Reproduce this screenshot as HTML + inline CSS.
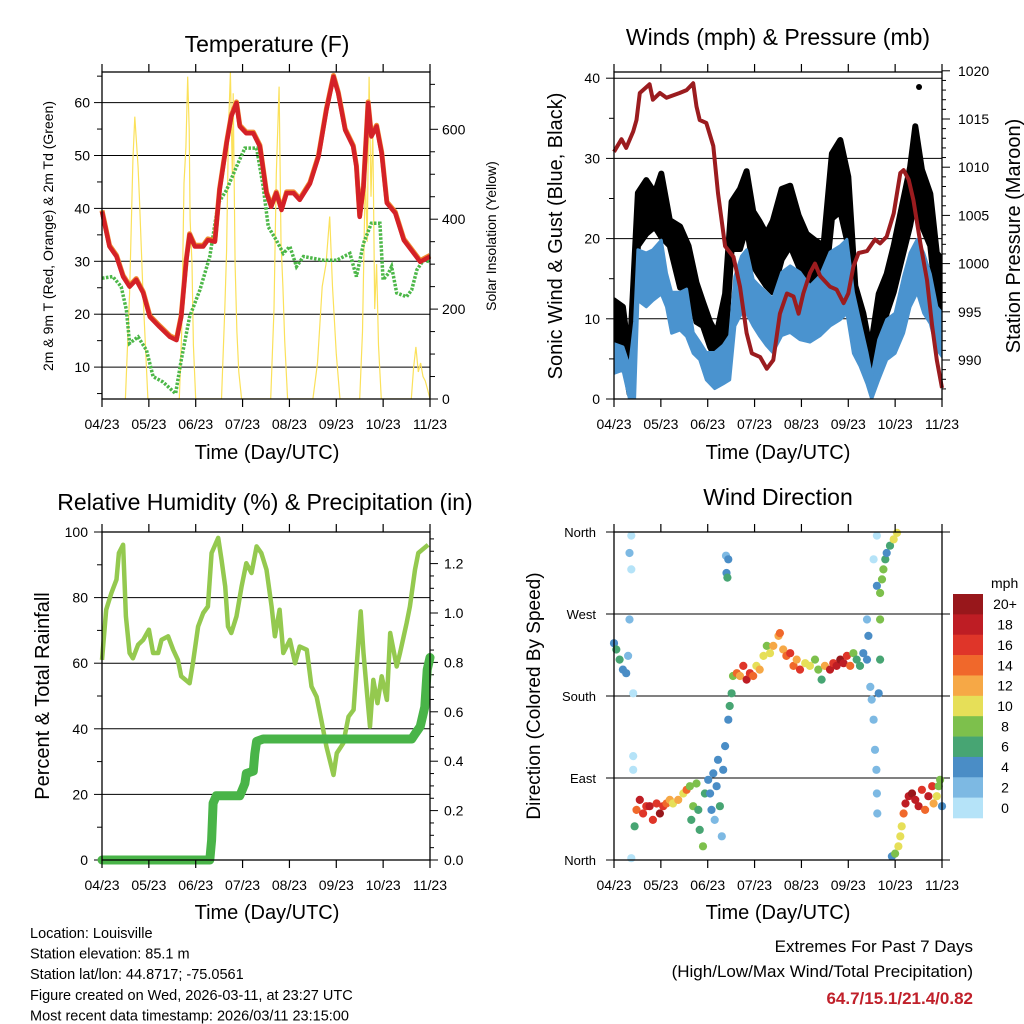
<!DOCTYPE html>
<html><head><meta charset="utf-8"><style>
html,body{margin:0;padding:0;background:#fff;}
svg{display:block;font-family:"Liberation Sans",Arial,sans-serif;}
</style></head><body>
<svg id="chart" width="1024" height="1024" viewBox="0 0 1024 1024" xmlns="http://www.w3.org/2000/svg">
<rect width="1024" height="1024" fill="#fff"/>
</svg>
<script>
// ---------- DATA ----------
const dayLabels = ['04/23','05/23','06/23','07/23','08/23','09/23','10/23','11/23'];
// Temperature panel
const tempT = [0,0.16,0.31,0.45,0.59,0.73,0.88,1.02,1.23,1.45,1.59,1.69,1.80,1.87,1.98,2.16,2.26,2.41,2.51,2.66,2.76,2.87,2.94,3.08,3.23,3.37,3.51,3.61,3.72,3.83,3.94,4.09,4.22,4.44,4.62,4.79,4.94,5.04,5.19,5.36,5.43,5.50,5.58,5.68,5.75,5.86,5.97,6.08,6.26,6.44,6.79,7.0];
const temp2m = [39.4,32.8,30.9,27.1,25.2,26.5,24,19.5,17.6,15.7,15.1,19.5,30.2,35,32.8,32.8,34,33.7,43.5,52.3,57.4,59.9,55.5,54.2,54.2,51.7,42.9,40.3,42.9,39.7,42.9,42.9,41.6,44.7,49.8,58.6,64.9,61.8,54.8,51.7,47.9,38.4,44.1,59.9,53.6,55.5,50.4,41,39.1,34,29.9,30.9];
const tdT = [0,0.23,0.41,0.52,0.59,0.77,0.95,1.09,1.30,1.57,1.69,1.87,2.09,2.30,2.48,2.66,2.87,3.05,3.30,3.44,3.55,3.72,3.87,4.01,4.15,4.30,4.72,5.01,5.29,5.43,5.58,5.75,5.93,6.00,6.11,6.18,6.29,6.50,6.61,6.72,6.86,7.0];
const td2m = [26.8,27.1,25.2,20.8,14.5,15.7,13.2,8.2,7.2,5,11.3,19.5,24.6,30.9,41,43.5,47.9,51.4,51.4,44.1,36.5,34,31.5,32.8,29,30.9,30.2,30.2,31.5,27.1,33.4,37.2,37.2,26.5,27.7,29,24,23.3,24.6,28.4,30.2,29.9];
const solarT = [0.5,0.59,0.66,0.70,0.77,0.80,0.875,0.98, 1.65,1.70,1.75,1.79,1.83,1.86,1.88,1.92,1.95,2.0, 2.55,2.62,2.66,2.70,2.74,2.78,2.80,2.84,2.88,2.92,2.98, 3.60,3.67,3.72,3.78,3.82,3.86,3.90,3.96, 4.5,4.6,4.7,4.78,4.86,4.92,5.0,5.08, 5.5,5.56,5.62,5.66,5.70,5.74,5.78,5.82,5.86,5.90,5.96, 6.6,6.65,6.70,6.75,6.80,6.85,6.9,6.95,7.0];
const solarV = [0,235,531,628,516,442,235,0, 0,150,480,560,717,600,400,300,120,0, 0,200,330,600,728,500,680,300,150,60,0, 0,200,500,695,350,250,130,0, 0,80,250,300,406,250,100,0, 0,150,500,350,717,450,600,200,300,120,0, 0,70,116,60,80,50,40,20,0];
// Winds panel
const windT = [0,0.19,0.33,0.44,0.51,0.69,0.83,1.01,1.12,1.23,1.41,1.55,1.69,1.83,1.97,2.15,2.33,2.47,2.58,2.72,2.83,2.97,3.10,3.25,3.39,3.58,3.76,3.97,4.18,4.40,4.61,4.83,4.97,5.11,5.25,5.40,5.50,5.65,5.82,6.00,6.18,6.32,6.47,6.61,6.75,6.89,7.0];
const windHi = [6.9,6.5,4,9.6,18.6,18.2,18.6,19.8,15.7,13.3,13.3,13.7,8.3,7.1,5.8,5.8,6.7,7.9,15.3,17.8,18.6,14.9,14.1,13.3,12.5,15.8,16.6,15.8,14.1,15.4,18.3,19.1,19.9,13.3,9.6,5.8,2.8,7.4,9.9,10.7,15.3,18.2,19.9,18.2,15.6,11.5,10.7];
const windLo = [3.2,3.6,0,0,12.3,11.5,12.3,13.1,11.5,8.2,8.6,7.8,5.7,4.9,2.4,1.3,1.9,2.4,9.1,10.7,10.7,9.1,7.9,6.7,5.8,7.9,8.3,7.4,7.1,7.9,9.1,9.9,10.7,5.7,4.1,1.9,0,2.4,4.9,5.7,8.2,11.5,13.3,10.7,9.4,6.2,5.3];
const gustT = [0,0.19,0.33,0.51,0.69,0.87,1.01,1.19,1.41,1.59,1.76,1.90,2.05,2.19,2.37,2.51,2.69,2.83,2.97,3.10,3.25,3.39,3.58,3.76,3.94,4.11,4.29,4.47,4.65,4.83,5.00,5.15,5.32,5.47,5.65,5.82,5.97,6.14,6.32,6.43,6.57,6.75,6.89,7.0];
const gustHi = [12.3,11.5,4.9,25.7,27.3,25.7,28.1,22.3,21.5,19.1,14.5,12.1,9.6,8.1,13.1,24.6,26.2,28.4,23.4,22.2,20.6,22.2,26.2,26.6,22.9,20.6,19.8,19.1,30.6,32.3,27.7,14.1,10.7,6.1,13.1,15.6,19.1,23.9,28.9,34,28.6,25.6,18.2,17.4];
const gustLo = [6.1,5.7,0.7,19.1,20.6,21.5,20.2,19.1,13.9,13.7,9.6,9.1,6.5,4.9,6.5,18.7,18.7,21.5,16.6,15.4,14.1,13.3,17.4,19.1,16.6,14.1,12.1,12.1,22.5,23.4,19.1,9.1,5.7,2.8,5.7,10.7,13.3,17.4,21.6,25.1,21.6,19.1,11.5,10.7];
const gustOutT = [6.51];
const gustOutV = [38.9];
const presT = [0,0.16,0.26,0.41,0.48,0.55,0.76,0.83,0.98,1.12,1.40,1.55,1.69,1.76,1.83,1.97,2.12,2.22,2.37,2.55,2.69,2.83,2.94,3.12,3.26,3.40,3.54,3.69,3.83,3.94,4.04,4.18,4.29,4.40,4.61,4.75,4.90,5.00,5.11,5.22,5.40,5.57,5.68,5.82,5.97,6.11,6.18,6.29,6.39,6.54,6.68,6.79,6.89,7.0];
const presV = [1011.6,1012.9,1012,1013.7,1014.9,1017.7,1018.6,1017,1017.7,1017.2,1017.7,1018,1018.7,1016.3,1014.9,1014.6,1012.2,1007.3,1001.8,1000.7,997.6,992.8,990.7,990.3,989.1,990,994.8,996.9,996.6,994.8,996.9,999,1000,998.7,997.6,997.3,995.9,996.9,999.7,1001.1,1001.3,1002.5,1002.1,1002.8,1005.2,1009.4,1009.7,1008.7,1006.6,1002.1,998.3,993.5,990,987.1];
// RH / precip panel
const rhT = [0,0.09,0.20,0.31,0.36,0.45,0.51,0.59,0.66,0.77,0.88,1.00,1.09,1.20,1.27,1.41,1.52,1.62,1.69,1.87,1.94,2.05,2.16,2.26,2.34,2.48,2.55,2.63,2.69,2.76,2.87,2.98,3.08,3.19,3.30,3.40,3.51,3.62,3.69,3.79,3.87,4.01,4.12,4.22,4.37,4.47,4.58,4.68,4.79,4.94,5.01,5.15,5.26,5.37,5.43,5.52,5.58,5.65,5.72,5.79,5.88,5.97,6.08,6.15,6.29,6.36,6.50,6.57,6.68,6.75,6.96];
const rhV = [61,76.3,81.4,85.5,93.6,96.1,74.3,63.1,61.5,65.6,67.1,70.2,63.1,63.1,67.1,68.2,64.1,61,56,53.9,60,71.2,75.3,77.3,93.6,98.2,91.6,83.4,71.2,69.2,74.3,83.4,90.5,87.5,95.6,93.6,88.5,77.3,68.2,76.3,63.1,67.1,60,65.1,64.1,52.9,49.8,42.7,34.6,25.9,32.6,35.6,43.7,45.8,58,75.8,63.1,51.9,40.7,54.9,47.8,56,48.8,69.2,59,63.1,72.2,77.3,88.5,93.6,96.1];
const prT = [0,2.30,2.34,2.37,2.44,2.94,3.05,3.08,3.23,3.26,3.30,3.44,6.61,6.68,6.79,6.89,6.94,7.0];
const prV = [0,0,0.08,0.23,0.26,0.26,0.31,0.35,0.36,0.43,0.48,0.49,0.49,0.51,0.54,0.62,0.77,0.82];
// Wind direction panel
const wdT = [0,0.05,0.12,0.19,0.26,0.30,0.33,0.33,0.37,0.37,0.41,0.41,0.41,0.37,0.44,0.48,0.55,0.62,0.69,0.76,0.83,0.91,0.98,1.05,1.12,1.19,1.26,1.37,1.48,1.55,1.62,1.65,1.69,1.76,1.80,1.83,1.90,1.94,2.01,2.05,2.08,2.12,2.15,2.19,2.22,2.26,2.30,2.33,2.37,2.39,2.40,2.44,2.42,2.44,2.47,2.51,2.54,2.62,2.69,2.76,2.83,2.90,2.97,3.04,3.11,3.19,3.26,3.33,3.40,3.51,3.54,3.61,3.68,3.76,3.83,3.90,3.97,4.08,4.18,4.29,4.36,4.43,4.50,4.61,4.68,4.75,4.83,4.90,4.97,5.04,5.11,5.18,5.25,5.32,5.40,5.40,5.43,5.47,5.50,5.54,5.57,5.60,5.61,5.62,5.54,5.61,5.68,5.68,5.65,5.61,5.68,5.72,5.75,5.79,5.82,5.89,5.97,6.04,5.93,6.00,6.07,6.11,6.14,6.18,6.22,6.29,6.36,6.43,6.50,6.57,6.64,6.71,6.79,6.82,6.89,6.93,6.96,7.0];
const wdD = [238,231,220,209,205,224,264,337,319,356,183,114,99,2,37,55,66,51,59,59,44,62,51,59,62,66,62,66,73,77,81,44,59,84,55,33,15,73,88,73,55,95,44,81,110,59,26,99,125,334,315,330,310,154,169,183,202,205,202,213,198,205,202,213,209,224,235,227,235,246,249,231,224,227,213,220,209,216,213,220,209,198,213,209,216,213,220,216,224,213,227,220,213,227,220,264,246,190,176,154,121,99,73,51,330,356,220,264,183,301,293,308,319,330,337,345,352,359,4,7,15,26,37,51,62,70,73,66,59,77,55,70,81,62,70,81,88,59];
const wdS = [4,6,6,5,4,3,2,2,1,1,1,1,0,1,6,14,18,16,16,18,16,16,20,16,14,12,10,12,10,14,8,6,8,8,6,6,8,6,4,4,4,4,2,4,4,6,2,4,4,2,4,4,6,4,6,6,8,14,12,16,18,16,14,10,12,10,8,10,12,12,14,12,14,16,14,12,16,10,10,8,8,6,12,18,16,18,20,18,16,14,8,6,6,4,4,2,4,2,2,2,2,2,2,2,1,1,6,8,4,4,8,8,8,6,4,6,10,10,4,8,10,10,10,14,18,18,20,18,18,16,14,18,16,12,10,8,8,4];
const cbLabels = ['20+','18','16','14','12','10','8','6','4','2','0'];
const cbColors = ['#98171b','#be1d24','#df3529','#f0682b','#f6a846','#e6df58','#7dc04c','#47a573','#4a8dc6','#7db9e3','#b5e3f8'];

// ---------- HELPERS ----------
const svg = document.getElementById('chart');
const NS = 'http://www.w3.org/2000/svg';
function mk(tag, attrs, parent) {
  const el = document.createElementNS(NS, tag);
  for (const k in attrs) el.setAttribute(k, attrs[k]);
  (parent || svg).appendChild(el);
  return el;
}
function txt(str, attrs, parent) { const t = mk('text', attrs, parent); t.textContent = str; return t; }
function pathOf(ts, vs, sx, sy) { return ts.map((t,i)=>(i?'L':'M')+sx(t).toFixed(1)+','+sy(vs[i]).toFixed(1)).join(''); }
function areaOf(ts, hi, lo, sx, sy) {
  let d = ts.map((t,i)=>(i?'L':'M')+sx(t).toFixed(1)+','+sy(hi[i]).toFixed(1)).join('');
  for (let i=ts.length-1;i>=0;i--) d += 'L'+sx(ts[i]).toFixed(1)+','+sy(lo[i]).toFixed(1);
  return d+'Z';
}
function xAxis(g, x0, x1, y0, y1, sx) {
  dayLabels.forEach((lab,i)=>{
    const x = sx(i);
    const tb = mk('line',{x1:x,x2:x,y1:y1,y2:y1+8,stroke:'#000','stroke-width':1.2},g);
    
    
    const tt = mk('line',{x1:x,x2:x,y1:y0,y2:y0-8,stroke:'#000','stroke-width':1.2},g);
    
    
    const l = txt(lab,{x:x,y:y1+30,'text-anchor':'middle','font-size':14},g);
    
    
  });
}
function frame(g,x0,x1,y0,y1){
  const f = mk('rect',{x:x0,y:y0,width:x1-x0,height:y1-y0,fill:'none',stroke:'#000','stroke-width':1.3},g);
  
  
}

// ================= PANEL 1: TEMPERATURE =================
(function(){
  const x0=102,x1=430,y0=72,y1=399;
  const sx=t=>x0+t*(x1-x0)/7;
  const sy=v=>420.0-5.29*v;
  const ss=v=>399-v*269.7/600;
  const g = mk('g',{});
  
  
  const ti = txt('Temperature (F)',{x:267,y:52,'text-anchor':'middle','font-size':23},g);
  
  
  [10,20,30,40,50,60].forEach(v=>{
    const gl = mk('line',{x1:x0,x2:x1,y1:sy(v),y2:sy(v),stroke:'#000','stroke-width':1},g);
    
    
    const l = txt(String(v),{x:x0-12,y:sy(v)+5,'text-anchor':'end','font-size':14},g);
    
    
  });
  for (let v=5; v<=65; v+=5){
    const tk = mk('line',{x1:x0-(v%10?5:8),x2:x0,y1:sy(v),y2:sy(v),stroke:'#000','stroke-width':1},g);
    
    
  }
  for (let v=0; v<=700; v+=50){
    const tk = mk('line',{x1:x1,x2:x1+(v%200?5:8),y1:ss(v),y2:ss(v),stroke:'#000','stroke-width':1},g);
    
    
    if (v%200===0){
      const l = txt(String(v),{x:x1+12,y:ss(v)+5,'font-size':14},g);
      
      
    }
  }
  const cp = mk('clipPath',{id:'cp1'},g);
  mk('rect',{x:x0,y:y0,width:x1-x0,height:y1-y0},cp);
  const sol = mk('path',{d:pathOf(solarT,solarV,sx,ss),fill:'none',stroke:'#fbe15a','stroke-width':1.2,'clip-path':'url(#cp1)'},g);
  
  
  const td = mk('path',{d:pathOf(tdT,td2m,sx,sy),fill:'none',stroke:'#4cb748','stroke-width':3.5,'stroke-dasharray':'2.5 1.5'},g);
  
  
  const t9 = mk('path',{d:pathOf(tempT,temp2m,sx,v=>sy(v)-1.2),fill:'none',stroke:'#f08a30','stroke-width':5,'stroke-linejoin':'round'},g);
  
  
  const t2 = mk('path',{d:pathOf(tempT,temp2m,sx,sy),fill:'none',stroke:'#d42127','stroke-width':4.5,'stroke-linejoin':'round'},g);
  
  
  frame(g,x0,x1,y0,y1);
  xAxis(g,x0,x1,y0,y1,sx);
  const xt = txt('Time (Day/UTC)',{x:267,y:459,'text-anchor':'middle','font-size':20},g);
  
  
  const yt = txt('2m & 9m T (Red, Orange) & 2m Td (Green)',{x:0,y:0,'text-anchor':'middle','font-size':14,transform:'translate(53,236) rotate(-90)'},g);
  
  
  const y2 = txt('Solar Insolation (Yellow)',{x:0,y:0,'text-anchor':'middle','font-size':14,transform:'translate(496,236) rotate(-90)'},g);
  
  
})();

// ================= PANEL 2: WINDS =================
(function(){
  const x0=614,x1=942,y0=72,y1=399;
  const sx=t=>x0+t*(x1-x0)/7;
  const sy=v=>399-8.02*v;
  const sp=p=>360-(p-990)*9.64;
  const g = mk('g',{});
  
  
  const ti = txt('Winds (mph) & Pressure (mb)',{x:778,y:45,'text-anchor':'middle','font-size':23},g);
  
  
  [10,20,30,40].forEach(v=>{
    const gl = mk('line',{x1:x0,x2:x1,y1:sy(v),y2:sy(v),stroke:'#000','stroke-width':1},g);
    
    
  });
  for (let v=0; v<=40; v+=5){
    const tk = mk('line',{x1:x0-(v%10?5:8),x2:x0,y1:sy(v),y2:sy(v),stroke:'#000','stroke-width':1},g);
    
    
    if (v%10===0){
      const l = txt(String(v),{x:x0-14,y:sy(v)+5,'text-anchor':'end','font-size':14},g);
      
      
    }
  }
  for (let p=987; p<=1020; p+=1){
    const tk = mk('line',{x1:x1,x2:x1+(p%5?4:8),y1:sp(p),y2:sp(p),stroke:'#000','stroke-width':1},g);
    
    
    if (p%5===0){
      const l = txt(String(p),{x:x1+16,y:sp(p)+5,'font-size':14},g);
      
      
    }
  }
  const cp = mk('clipPath',{id:'cp2'},g);
  mk('rect',{x:x0,y:y0,width:x1-x0,height:y1-y0},cp);
  const gu = mk('path',{d:areaOf(gustT,gustHi,gustLo,sx,sy),fill:'#000',stroke:'#000','stroke-width':6,'stroke-linejoin':'round','clip-path':'url(#cp2)'},g);
  
  
  gustOutT.forEach((t,i)=>{
    const c = mk('circle',{cx:sx(t),cy:sy(gustOutV[i]),r:3,fill:'#000'},g);
    
    
  });
  const wi = mk('path',{d:areaOf(windT,windHi,windLo,sx,sy),fill:'#4a93cf',stroke:'#4a93cf','stroke-width':3,'stroke-linejoin':'round','clip-path':'url(#cp2)'},g);
  
  
  const pr = mk('path',{d:pathOf(presT,presV,sx,sp),fill:'none',stroke:'#9b1c1f','stroke-width':4,'stroke-linejoin':'round'},g);
  
  
  frame(g,x0,x1,y0,y1);
  xAxis(g,x0,x1,y0,y1,sx);
  const xt = txt('Time (Day/UTC)',{x:778,y:459,'text-anchor':'middle','font-size':20},g);
  
  
  const yt = txt('Sonic Wind & Gust (Blue, Black)',{x:0,y:0,'text-anchor':'middle','font-size':20,transform:'translate(562,236) rotate(-90)'},g);
  
  
  const y2 = txt('Station Pressure (Maroon)',{x:0,y:0,'text-anchor':'middle','font-size':20,transform:'translate(1020,236) rotate(-90)'},g);
  
  
})();

// ================= PANEL 3: RH & PRECIP =================
(function(){
  const x0=102,x1=430,y0=532,y1=860;
  const sx=t=>x0+t*(x1-x0)/7;
  const sy=v=>860-3.28*v;
  const sp=v=>860-v*247;
  const g = mk('g',{});
  
  
  const ti = txt('Relative Humidity (%) & Precipitation (in)',{x:265,y:510,'text-anchor':'middle','font-size':23},g);
  
  
  [20,40,60,80].forEach(v=>{
    const gl = mk('line',{x1:x0,x2:x1,y1:sy(v),y2:sy(v),stroke:'#000','stroke-width':1},g);
    
    
  });
  for (let v=0; v<=100; v+=10){
    const tk = mk('line',{x1:x0-(v%20?5:8),x2:x0,y1:sy(v),y2:sy(v),stroke:'#000','stroke-width':1},g);
    
    
    if (v%20===0){
      const l = txt(String(v),{x:x0-14,y:sy(v)+5,'text-anchor':'end','font-size':14},g);
      
      
    }
  }
  for (let k=0; k<=26; k++){
    const v=k*0.05;
    const tk = mk('line',{x1:x1,x2:x1+(k%4?4:8),y1:sp(v),y2:sp(v),stroke:'#000','stroke-width':1},g);
    
    
    if (k%4===0){
      const l = txt(v.toFixed(1),{x:x1+14,y:sp(v)+5,'font-size':14},g);
      
      
    }
  }
  const rh = mk('path',{d:pathOf(rhT,rhV,sx,sy),fill:'none',stroke:'#94c94f','stroke-width':4.5,'stroke-linejoin':'round'},g);
  
  
  const pr = mk('path',{d:pathOf(prT,prV,sx,sp),fill:'none',stroke:'#49b448','stroke-width':9,'stroke-linejoin':'round','stroke-linecap':'round'},g);
  
  
  frame(g,x0,x1,y0,y1);
  xAxis(g,x0,x1,y0,y1,sx);
  const xt = txt('Time (Day/UTC)',{x:267,y:919,'text-anchor':'middle','font-size':20},g);
  
  
  const yt = txt('Percent & Total Rainfall',{x:0,y:0,'text-anchor':'middle','font-size':20,transform:'translate(49,696) rotate(-90)'},g);
  
  
})();

// ================= PANEL 4: WIND DIRECTION =================
(function(){
  const x0=614,x1=942,y0=532,y1=860;
  const sx=t=>x0+t*(x1-x0)/7;
  const sy=d=>860-d*(328/360);
  const g = mk('g',{});
  
  
  const ti = txt('Wind Direction',{x:778,y:505,'text-anchor':'middle','font-size':23},g);
  
  
  const dirLabs=['North','East','South','West','North'];
  dirLabs.forEach((lab,i)=>{
    const y=sy(i*90);
    const gl = mk('line',{x1:x0-8,x2:x1+8,y1:y,y2:y,stroke:'#000','stroke-width':1},g);
    
    
    const l = txt(lab,{x:x0-18,y:y+5,'text-anchor':'end','font-size':13},g);
    
    
  });
  wdT.forEach((t,i)=>{
    const s=wdS[i];
    const bin=Math.min(10,Math.floor(s/2));
    const c = mk('circle',{cx:sx(t).toFixed(1),cy:sy(wdD[i]).toFixed(1),r:4.1,fill:cbColors[10-bin]},g);
    
    
  });
  frame(g,x0,x1,y0,y1);
  xAxis(g,x0,x1,y0,y1,sx);
  const xt = txt('Time (Day/UTC)',{x:778,y:919,'text-anchor':'middle','font-size':20},g);
  
  
  const yt = txt('Direction (Colored By Speed)',{x:0,y:0,'text-anchor':'middle','font-size':19,transform:'translate(540,696) rotate(-90)'},g);
  
  
  // colorbar
  const cb = mk('g',{},g);
  
  
  const mp = txt('mph',{x:991,y:588,'font-size':14},cb);
  
  
  const bh=224/11;
  cbLabels.forEach((lab,i)=>{
    const r = mk('rect',{x:953,y:594+i*bh,width:30,height:bh+0.3,fill:cbColors[i]},cb);
    
    
    const l = txt(lab,{x:1005,y:594+i*bh+bh/2+5,'text-anchor':'middle','font-size':14},cb);
    
    
  });
})();

// ================= FOOTER TEXT =================
const infoLines=['Location: Louisville','Station elevation: 85.1 m','Station lat/lon: 44.8717; -75.0561','Figure created on Wed, 2026-03-11, at 23:27 UTC','Most recent data timestamp: 2026/03/11 23:15:00'];
infoLines.forEach((s,i)=>{
  const t = txt(s,{x:30,y:938+i*20.6,'font-size':14.5});
  
  
});
const e1 = txt('Extremes For Past 7 Days',{x:973,y:952,'text-anchor':'end','font-size':17});


const e2 = txt('(High/Low/Max Wind/Total Precipitation)',{x:973,y:977,'text-anchor':'end','font-size':17});


const e3 = txt('64.7/15.1/21.4/0.82',{x:973,y:1004,'text-anchor':'end','font-size':17,'font-weight':'bold',fill:'#c0202a'});


</script>
</body></html>
